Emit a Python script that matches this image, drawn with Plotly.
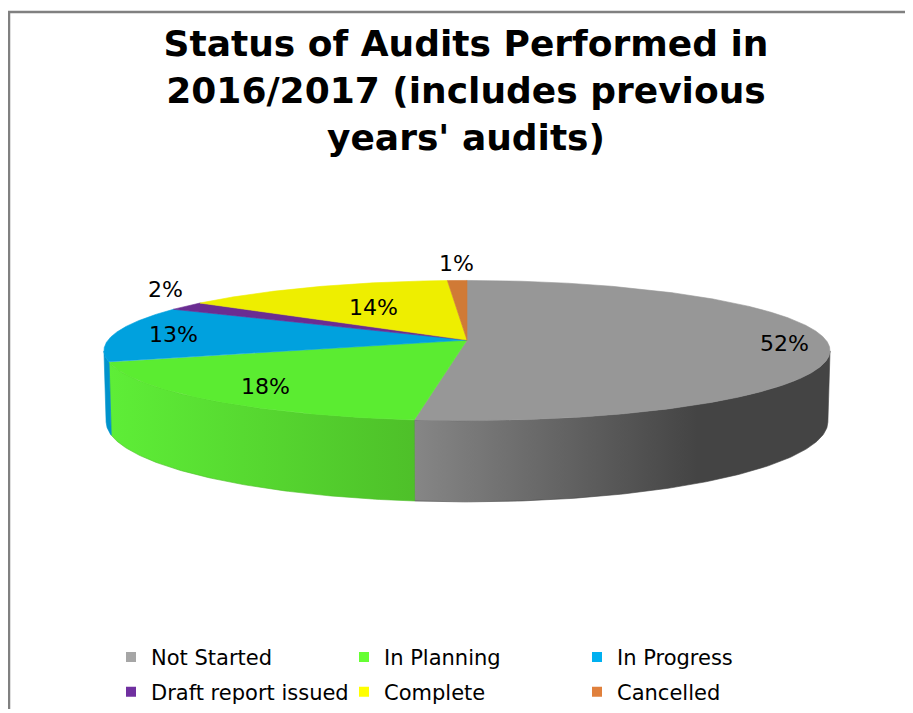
import numpy as np
import plotly.graph_objects as go

# ---------------- data ----------------
categories = ["Not Started", "In Planning", "In Progress",
              "Draft report issued", "Complete", "Cancelled"]
percent_values = [52, 18, 13, 2, 14, 1]

# ---------------- style ----------------
TOP_COLORS = ["#979797", "#5BEC31", "#00A1DE", "#6A2C92", "#EEEE00", "#D07A36"]
LEGEND_COLORS = ["#A6A6A6", "#66FF33", "#00B0F0", "#7030A0", "#FFFF00", "#E0803C"]
WALL_SCALES = [
    [[0, "#868686"], [0.68, "#444444"], [1, "#444444"]],
    [[0, "#5EEE37"], [1, "#4EC029"]],
    [[0, "#0093CC"], [1, "#0093CC"]],
    [[0, "#5E2884"], [1, "#5E2884"]],
    [[0, "#D8D800"], [1, "#D8D800"]],
    [[0, "#B86A2E"], [1, "#B86A2E"]],
]
LABEL_R = [0.88, 0.80, 0.83, 1.08, 0.58, 1.04]
LABEL_OUTSIDE = [False, False, False, True, False, True]
FONT = "DejaVu Sans"

PAGE_OFF = 8               # page body margin
W, H = 905, 705            # figure size (page 913x713 minus body margin)
CX, CY = 467, 342          # page position of pie centre
SCALE = 359                # px per radius at centre depth
SIN_A, COS_A = 0.192, 0.9814  # view elevation
DIST = COS_A / 0.149       # camera distance in radii
THICK = 0.2                # pie height in radii
FOC = SCALE * DIST


def project(r, th, yh):
    X = r * np.sin(th)
    Z = r * np.cos(th)
    pv = -yh * SIN_A + Z * COS_A
    pu = yh * COS_A + Z * SIN_A
    depth = DIST + pv
    return CX + FOC * X / depth, CY - FOC * pu / depth


fig = go.Figure()

total = sum(percent_values)
fracs = np.cumsum([0] + percent_values) / total
starts = fracs[:-1] * 2 * np.pi
ends = fracs[1:] * 2 * np.pi

# visible outer wall (front) angular range
th_r = np.arccos(-1.0 / (DIST * COS_A))
th_l = 2 * np.pi - th_r

# walls
for i in range(len(categories)):
    lo, hi = max(starts[i], th_r), min(ends[i], th_l)
    if hi <= lo:
        continue
    t = np.linspace(lo, hi, 120)
    xt, yt = project(1.0, t, 0.0)
    xb, yb = project(1.0, t[::-1], -THICK)
    fig.add_trace(go.Scatter(
        x=np.concatenate([xt, xb, xt[:1]]), y=np.concatenate([yt, yb, yt[:1]]),
        mode="lines", fill="toself", line=dict(width=0.6, color=WALL_SCALES[i][-1][1]),
        fillgradient=dict(type="horizontal", colorscale=WALL_SCALES[i]),
        hoverinfo="skip", showlegend=False))

# top faces
for i in range(len(categories)):
    t = np.linspace(starts[i], ends[i], max(8, int(400 * (ends[i] - starts[i]))))
    xa, ya = project(1.0, t, 0.0)
    x0, y0 = project(0.0, 0.0, 0.0)
    fig.add_trace(go.Scatter(
        x=np.concatenate([[x0], xa, [x0]]), y=np.concatenate([[y0], ya, [y0]]),
        mode="lines", fill="toself", fillcolor=TOP_COLORS[i],
        line=dict(width=0.6, color=TOP_COLORS[i]),
        hoverinfo="skip", showlegend=False))

# data labels
for i in range(len(categories)):
    mid = (starts[i] + ends[i]) / 2
    lx, ly = project(LABEL_R[i], mid, 0.0)
    fig.add_annotation(
        x=float(lx), y=float(ly), text=f"{percent_values[i]}%", showarrow=False,
        xanchor="center", yanchor="bottom" if LABEL_OUTSIDE[i] else "middle",
        font=dict(family=FONT, size=22, color="#000000"))

# legend entries
for i, name in enumerate(categories):
    fig.add_trace(go.Scatter(
        x=[None], y=[None], mode="markers", name=name,
        marker=dict(symbol="square", size=10, color=LEGEND_COLORS[i]),
        legend="legend" if i < 3 else "legend2"))

legend_common = dict(
    orientation="h", xanchor="left", yanchor="middle",
    font=dict(family=FONT, size=21, color="#000000"),
    entrywidth=188, entrywidthmode="pixels", bgcolor="rgba(0,0,0,0)",
    itemclick=False, itemdoubleclick=False, traceorder="normal")


def fy(page_y):
    return 1 - (page_y - PAGE_OFF) / H


def fx(page_x):
    return (page_x - PAGE_OFF) / W


fig.update_layout(
    width=W, height=H,
    margin=dict(l=0, r=0, t=0, b=0),
    paper_bgcolor="white", plot_bgcolor="white",
    title=dict(
        text="Status of Audits Performed in<br>2016/2017 (includes previous<br>years' audits)",
        x=fx(466), xanchor="center", y=1 - 48 / H, yanchor="top",
        font=dict(family=FONT, size=36, weight="bold", color="#000000")),
    xaxis=dict(range=[PAGE_OFF, PAGE_OFF + W], visible=False, fixedrange=True),
    yaxis=dict(range=[PAGE_OFF + H, PAGE_OFF], visible=False, fixedrange=True),
    legend=dict(x=fx(111), y=fy(661), **legend_common),
    legend2=dict(x=fx(111), y=fy(696), **legend_common),
    shapes=[dict(type="path", xref="x", yref="y",
                 path=f"M 9 {PAGE_OFF + H} L 9 12 L {PAGE_OFF + W} 12",
                 line=dict(color="#808080", width=2.5))],
)

fig.write_html("out.html")
